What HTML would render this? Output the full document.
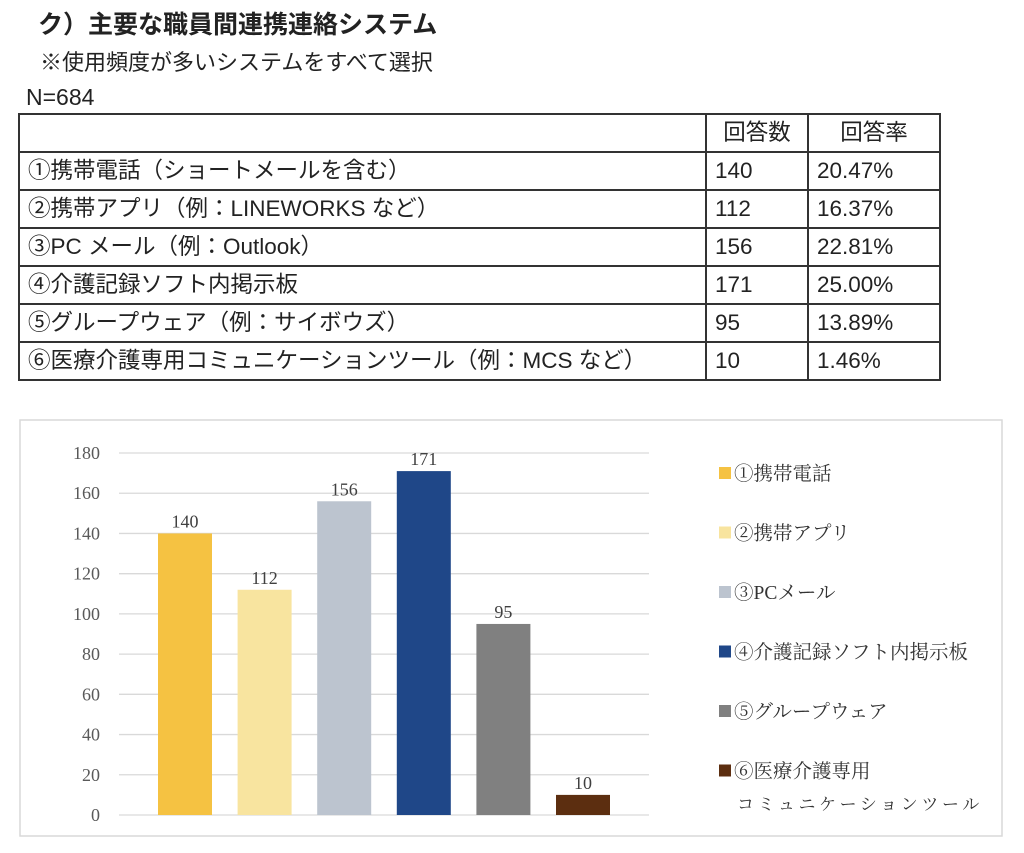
<!DOCTYPE html>
<html><head><meta charset="utf-8"><style>
body{margin:0;width:1024px;height:853px;background:#fff;position:relative;overflow:hidden;font-family:"Liberation Sans","Noto Sans CJK JP",sans-serif;color:#222}
.t{position:absolute;white-space:nowrap}
table{position:absolute;left:18px;top:113px;border-collapse:collapse;font-size:22.5px;table-layout:fixed;width:921px}
td{border:2px solid #333;height:36px;padding:0 0 0 8px;line-height:36px;white-space:nowrap;overflow:hidden}
</style></head><body>
<div class="t" style="left:38px;top:5px;font-size:25px;font-weight:bold">ク）主要な職員間連携連絡システム</div>
<div class="t" style="left:40px;top:45px;font-size:22px">※使用頻度が多いシステムをすべて選択</div>
<div class="t" style="left:26px;top:84px;font-size:23px">N=684</div>
<table>
<colgroup><col style="width:687px"><col style="width:102px"><col style="width:132px"></colgroup>
<tr><td></td><td style="text-align:center;padding:0">回答数</td><td style="text-align:center;padding:0">回答率</td></tr>
<tr><td>①携帯電話（ショートメールを含む）</td><td>140</td><td>20.47%</td></tr>
<tr><td>②携帯アプリ（例：LINEWORKS など）</td><td>112</td><td>16.37%</td></tr>
<tr><td>③PC メール（例：Outlook）</td><td>156</td><td>22.81%</td></tr>
<tr><td>④介護記録ソフト内掲示板</td><td>171</td><td>25.00%</td></tr>
<tr><td>⑤グループウェア（例：サイボウズ）</td><td>95</td><td>13.89%</td></tr>
<tr><td>⑥医療介護専用コミュニケーションツール（例：MCS など）</td><td>10</td><td>1.46%</td></tr>
</table>
<svg id="chart" style="position:absolute;left:0;top:0" width="1024" height="853" font-family='"Liberation Serif","Noto Serif CJK SC",serif'>
<rect x="20" y="420" width="982" height="416" fill="#fff" stroke="#d9d9d9" stroke-width="1.5"/>
</svg>
<script>
const categories=["①携帯電話","②携帯アプリ","③PCメール","④介護記録ソフト内掲示板","⑤グループウェア","⑥医療介護専用"];
const values=[140,112,156,171,95,10];
const colors=["#f5c242","#f8e49f","#bcc4cf","#1f4788","#808080","#5c2e10"];
const ticks=[0,20,40,60,80,100,120,140,160,180];
const svg=document.getElementById('chart');const NS='http://www.w3.org/2000/svg';
const y=v=>815-(v/180)*362;
const x=i=>158+i*79.6;
function mk(t,a,txt){const e=document.createElementNS(NS,t);for(const k in a)e.setAttribute(k,a[k]);if(txt!=null)e.textContent=txt;svg.appendChild(e);return e;}
ticks.forEach(t=>{
 const l=mk('line',{x1:119,x2:649,y1:y(t),y2:y(t),stroke:'#d9d9d9','stroke-width':1.3});
 
 
 const tx=mk('text',{x:100,y:y(t)+6,'text-anchor':'end','font-size':18,fill:'#595959'},t);
 
 
});
values.forEach((v,i)=>{
 const r=mk('rect',{x:x(i),y:y(v),width:54,height:y(0)-y(v),fill:colors[i]});
 
 
 const t=mk('text',{x:x(i)+27,y:y(v)-6,'text-anchor':'middle','font-size':18,fill:'#404040'},v);
 
 
 const ly=473+i*59.5;
 const s=mk('rect',{x:719,y:ly-6,width:12,height:12,fill:colors[i]});
 
 
 const lt=mk('text',{x:734,y:ly+7,'font-size':19.5,fill:'#333'},categories[i]);
 
 
});
const l2=mk('text',{x:737,y:810,'font-size':17,fill:'#333','letter-spacing':'3.6'},'コミュニケーションツール');


</script>
</body></html>
